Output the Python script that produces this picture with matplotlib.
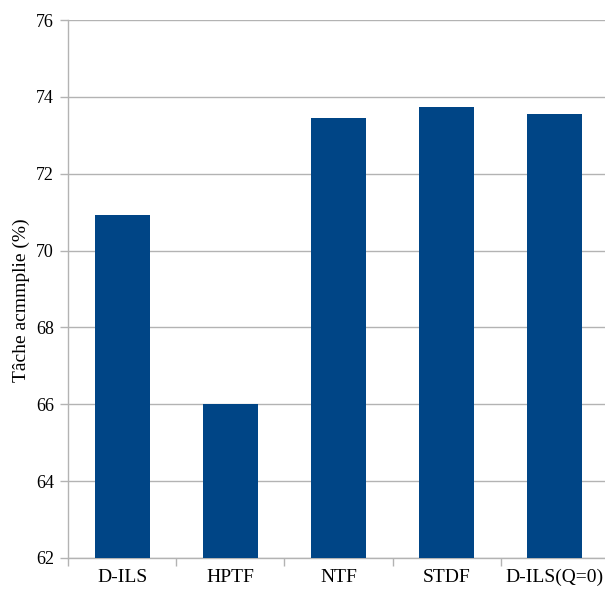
import matplotlib
matplotlib.use("Agg")
import matplotlib.pyplot as plt
import numpy as np

categories = ["D-ILS", "HPTF", "NTF", "STDF", "D-ILS(Q=0)"]
values = [70.93, 66.0, 73.45, 73.74, 73.55]
yticks = [62, 64, 66, 68, 70, 72, 74, 76]

bar_color = "#004586"
grid_color = "#b3b3b3"

fig = plt.figure(figsize=(6.05, 5.92), dpi=100)
ax = fig.add_axes([68 / 605, 1 - 558 / 592, 541 / 605, 538 / 592])

x = np.arange(len(categories))
ax.bar(x, values, width=0.51, color=bar_color, zorder=3)

ax.set_ylim(62, 76)
ax.set_xlim(-0.5, len(categories) - 0.5)

ax.set_yticks(yticks)
ax.set_yticklabels([str(v) for v in yticks], fontfamily="Liberation Serif", fontsize=13)
ax.yaxis.grid(True, color=grid_color, linewidth=1.0, zorder=0)
ax.tick_params(axis="y", length=6, color=grid_color, width=1.0, pad=4)

ax.set_xticks(x)
ax.set_xticklabels(categories, fontfamily="Liberation Serif", fontsize=14)
ax.tick_params(axis="x", which="major", length=0, pad=8)
ax.set_xticks(np.arange(-0.5, len(categories), 1.0), minor=True)
ax.tick_params(axis="x", which="minor", length=6, color=grid_color, width=1.0)

for side in ("top", "right"):
    ax.spines[side].set_visible(False)
for side in ("left", "bottom"):
    ax.spines[side].set_color(grid_color)
    ax.spines[side].set_linewidth(1.0)

ax.set_ylabel("Tâche acmmplie (%)", fontfamily="Liberation Serif", fontsize=14,
              va="center")
ax.yaxis.set_label_coords(-0.087, 0.48)

fig.savefig("out.png", dpi=100)
